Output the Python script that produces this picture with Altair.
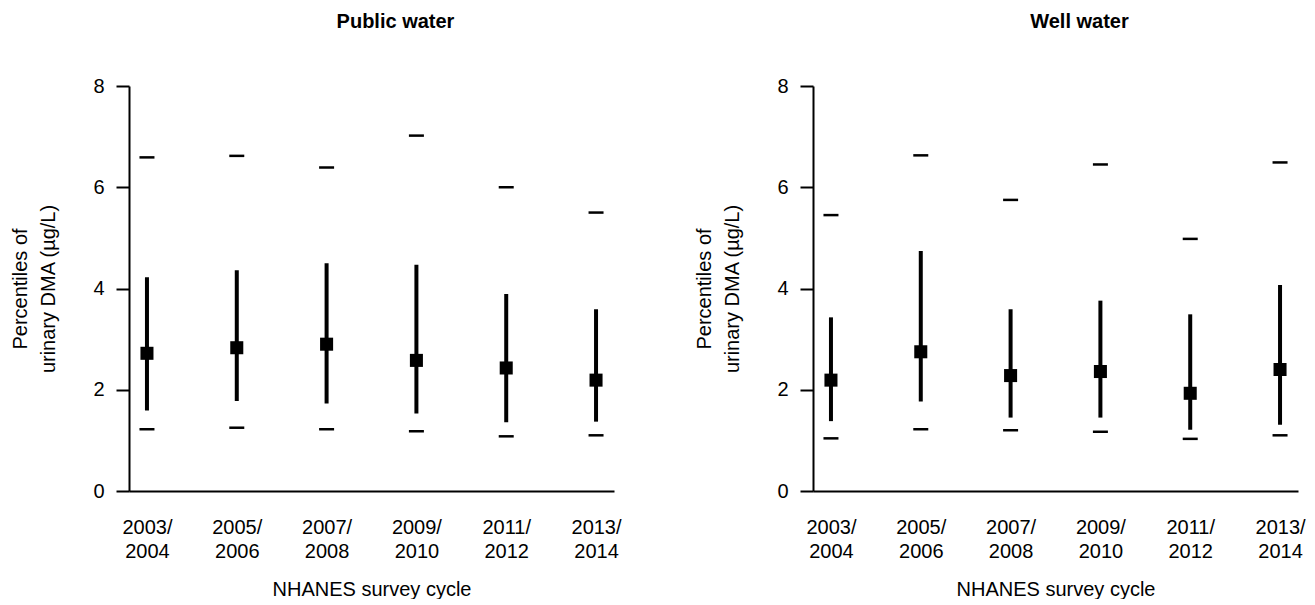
import altair as alt
import pandas as pd

cycles = ["2003/ 2004", "2005/ 2006", "2007/ 2008", "2009/ 2010", "2011/ 2012", "2013/ 2014"]

public_p5 = [1.22, 1.25, 1.22, 1.18, 1.08, 1.10]
public_p25 = [1.59, 1.78, 1.73, 1.53, 1.36, 1.37]
public_p50 = [2.72, 2.83, 2.90, 2.58, 2.43, 2.19]
public_p75 = [4.22, 4.36, 4.50, 4.47, 3.89, 3.59]
public_p95 = [6.59, 6.62, 6.39, 7.02, 6.00, 5.50]

well_p5 = [1.04, 1.22, 1.20, 1.17, 1.03, 1.10]
well_p25 = [1.38, 1.77, 1.45, 1.45, 1.21, 1.31]
well_p50 = [2.19, 2.75, 2.28, 2.36, 1.93, 2.40]
well_p75 = [3.43, 4.74, 3.59, 3.76, 3.49, 4.07]
well_p95 = [5.45, 6.63, 5.75, 6.45, 4.98, 6.49]

y_ticks = [0, 2, 4, 6, 8]
y_title = ["Percentiles of", "urinary DMA (µg/L)"]
x_title = "NHANES survey cycle"

FONT = "Liberation Sans"


def panel(title, p5, p25, p50, p75, p95):
    df = pd.DataFrame({"cycle": cycles, "p5": p5, "p25": p25, "p50": p50,
                       "p75": p75, "p95": p95})
    base = alt.Chart(df)
    x = alt.X("cycle:O", sort=cycles,
              scale=alt.Scale(type="point", padding=0.2),
              axis=alt.Axis(title=x_title, labelExpr="split(datum.label, ' ')",
                            labelAngle=0, ticks=False, labelPadding=26,
                            labelLineHeight=24, titlePadding=18,
                            domainWidth=2, domainColor="black"))
    yscale = alt.Scale(domain=[0, 8], nice=False, zero=True)
    yaxis = alt.Axis(title=y_title, values=y_ticks, tickSize=13, tickWidth=2,
                     tickColor="black", domainWidth=2, domainColor="black",
                     labelPadding=12, titlePadding=34, grid=False,
                     titleLineHeight=28)
    rule = base.mark_rule(strokeWidth=4, color="black").encode(
        x=x, y=alt.Y("p25:Q", scale=yscale, axis=yaxis), y2="p75:Q")
    sq = base.mark_square(size=170, color="black", opacity=1).encode(
        x=x, y=alt.Y("p50:Q", scale=yscale))
    t5 = base.mark_tick(color="black", size=15, thickness=2.5, opacity=1).encode(
        x=x, y=alt.Y("p5:Q", scale=yscale))
    t95 = base.mark_tick(color="black", size=15, thickness=2.5, opacity=1).encode(
        x=x, y=alt.Y("p95:Q", scale=yscale))
    return alt.layer(rule, sq, t5, t95).properties(
        width=485, height=405,
        title=alt.TitleParams(title, frame="group", anchor="middle", dx=24,
                              fontSize=20, fontWeight="bold", font=FONT,
                              color="black", baseline="alphabetic", offset=28))


left = panel("Public water", public_p5, public_p25, public_p50, public_p75, public_p95)
right = panel("Well water", well_p5, well_p25, well_p50, well_p75, well_p95)

chart = alt.hconcat(left, right, spacing=72).properties(
    padding={"left": 2, "top": 4, "right": 0, "bottom": 0}
).configure_view(strokeWidth=0).configure_axis(
    labelFont=FONT, titleFont=FONT, labelFontSize=20, titleFontSize=20,
    labelColor="black", titleColor="black", titleFontWeight="normal"
)

chart.save("out.html", embed_options={"renderer": "svg", "actions": False})
